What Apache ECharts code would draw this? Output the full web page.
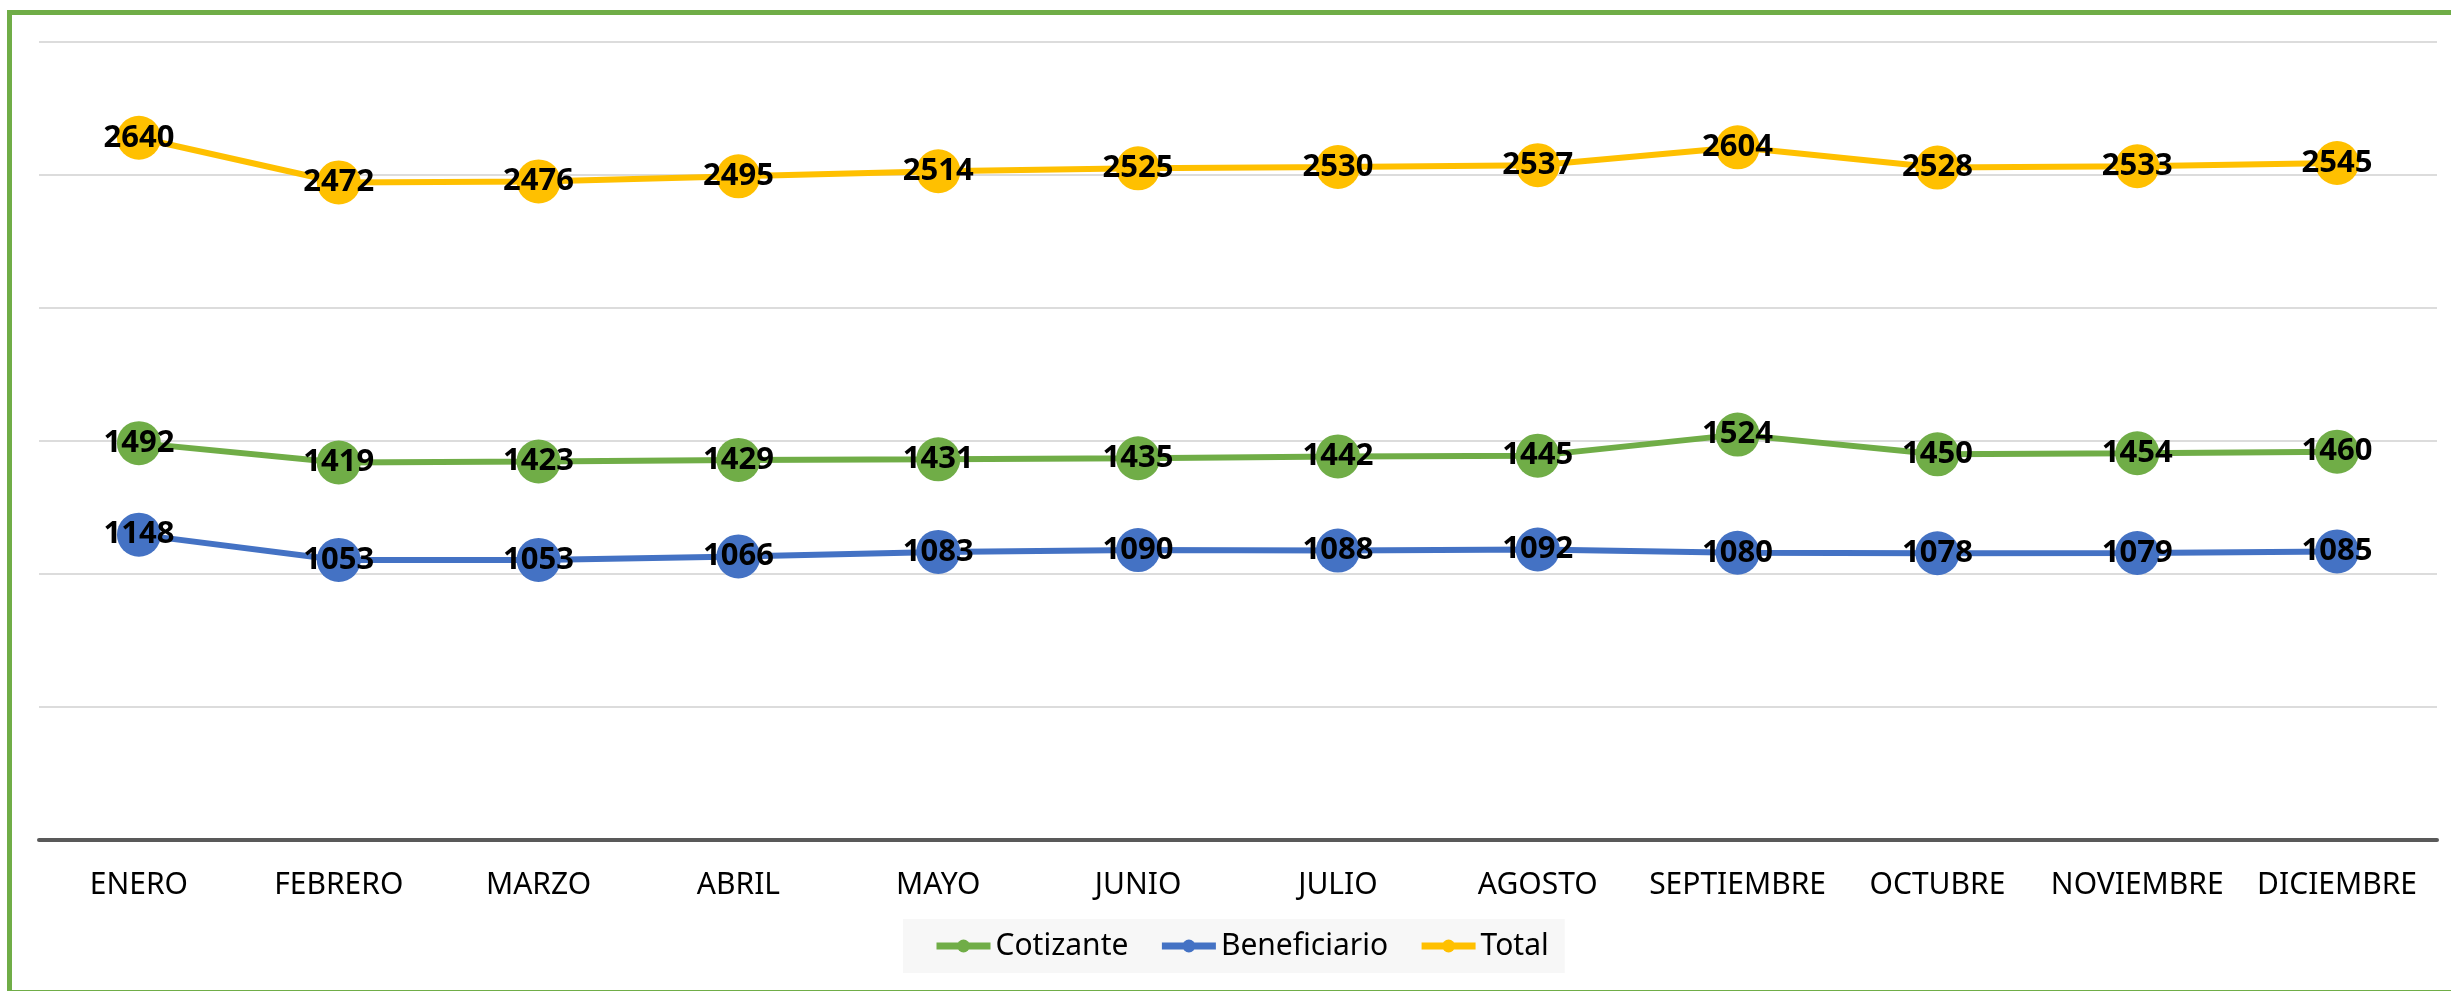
<!DOCTYPE html>
<html>
<head>
<meta charset="utf-8">
<script src="https://cdn.jsdelivr.net/npm/echarts@6/dist/echarts.min.js"></script>
<style>
    html, body { margin: 0; padding: 0; background: #ffffff; }
    #chart { width: 2451px; height: 991px; }
</style>
</head>
<body>
<div id="chart"></div>
<script>
    const months = ['ENERO', 'FEBRERO', 'MARZO', 'ABRIL', 'MAYO', 'JUNIO', 'JULIO', 'AGOSTO', 'SEPTIEMBRE', 'OCTUBRE', 'NOVIEMBRE', 'DICIEMBRE'];
    const cotizante = [1492, 1419, 1423, 1429, 1431, 1435, 1442, 1445, 1524, 1450, 1454, 1460];
    const beneficiario = [1148, 1053, 1053, 1066, 1083, 1090, 1088, 1092, 1080, 1078, 1079, 1085];
    const total = [2640, 2472, 2476, 2495, 2514, 2525, 2530, 2537, 2604, 2528, 2533, 2545];

    const font = '"Noto Sans", sans-serif';

    function lineSeries(name, data, color) {
        return {
            name: name,
            type: 'line',
            data: data,
            symbol: 'circle',
            symbolSize: 44,
            itemStyle: { color: color },
            lineStyle: { color: color, width: 6 },
            label: {
                show: true,
                position: 'inside',
                color: '#000000',
                fontFamily: font,
                fontWeight: 'bold',
                fontSize: 31
            },
            emphasis: { disabled: true }
        };
    }

    const option = {
        animation: false,
        backgroundColor: '#ffffff',
        graphic: [{
            type: 'rect',
            shape: { x: 9.5, y: 12.5, width: 2470, height: 980 },
            style: { fill: 'none', stroke: '#70ad47', lineWidth: 5 },
            silent: true
        }],
        grid: {
            top: 42,
            left: 39,
            right: 14,
            bottom: 151
        },
        legend: {
            left: 903,
            top: 919,
            itemWidth: 54,
            itemHeight: 16,
            itemGap: 30,
            padding: [12, 16, 12, 30],
            backgroundColor: '#f7f7f7',
            lineStyle: { width: 7 },
            textStyle: { fontFamily: font, fontSize: 30, color: '#000000' },
            data: ['Cotizante', 'Beneficiario', 'Total']
        },
        xAxis: {
            type: 'category',
            data: months,
            boundaryGap: true,
            axisLine: { lineStyle: { color: '#595959', width: 4 } },
            axisTick: { show: false },
            axisLabel: {
                color: '#000000',
                fontFamily: font,
                fontSize: 30,
                margin: 30,
                interval: 0
            }
        },
        yAxis: {
            type: 'value',
            min: 0,
            max: 3000,
            interval: 500,
            axisLabel: { show: false },
            axisLine: { show: false },
            axisTick: { show: false },
            splitLine: { lineStyle: { color: '#d0d0d0', width: 1.5 } }
        },
        series: [
            lineSeries('Cotizante', cotizante, '#70ad47'),
            lineSeries('Beneficiario', beneficiario, '#4472c4'),
            lineSeries('Total', total, '#ffc000')
        ]
    };

    echarts.init(document.getElementById('chart')).setOption(option);
</script>
</body>
</html>
